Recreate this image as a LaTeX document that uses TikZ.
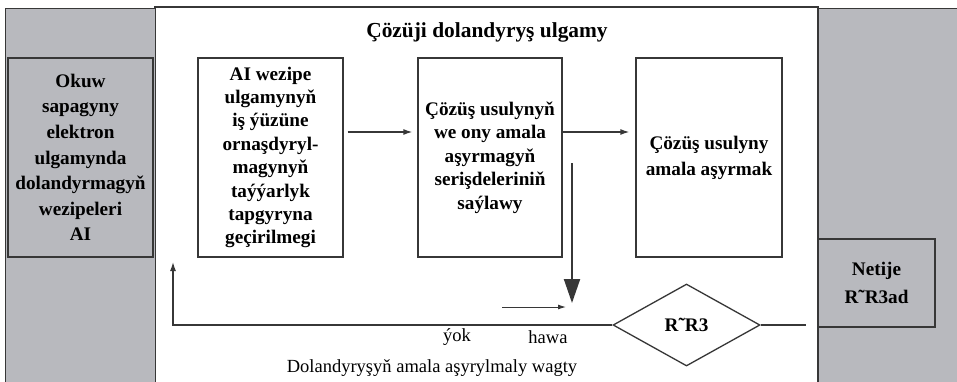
\documentclass[tikz,border=0pt]{standalone}
\usepackage{fontspec}
\setmainfont{Liberation Serif}
\usetikzlibrary{shapes.geometric,arrows.meta}
\definecolor{panelgray}{RGB}{184,185,190}
\definecolor{linegray}{RGB}{55,55,55}
\tikzset{
  panel/.style={fill=panelgray,draw=linegray,line width=1pt},
  graybox/.style={fill=panelgray,draw=linegray,line width=1.3pt,inner sep=0pt,align=center,
    font=\fontsize{19.2}{25.6}\selectfont\bfseries},
  whitebox/.style={fill=white,draw=linegray,line width=1.3pt,inner sep=0pt,align=center,
    minimum width=145pt,minimum height=199pt},
  conn/.style={draw=linegray,line width=1.3pt},
  arr/.style={conn,-{Latex[length=9pt,width=6pt]}},
  lbl/.style={inner sep=0pt,font=\fontsize{18.5}{22}\selectfont},
}
\begin{document}
\begin{tikzpicture}[x=1pt,y=-1pt]
\useasboundingbox (0,0) rectangle (957,381);
% panels
\fill[white] (0,0) rectangle (957,381);
\draw[fill=white,draw=linegray,line width=1.3pt] (155,7) rectangle (818,395);
\draw[panel] (5,8) rectangle (155,395);
\draw[panel] (818,8) rectangle (965,395);
% title
\node[inner sep=0pt,font=\fontsize{21.4}{24}\selectfont\bfseries] (title) at (487,32) {Çözüji dolandyryş ulgamy};
% left box
\node[graybox,minimum width=145pt,minimum height=199pt] (left) at (80.5,157.5)
  {Okuw\\sapagyny\\elektron\\ulgamynda\\dolandyrmagyň\\wezipeleri\\AI};
% boxes
\node[whitebox,font=\fontsize{19.2}{23.4}\selectfont\bfseries] (b1) at (270.5,157.5)
  {AI wezipe\\ulgamynyň\\iş ýüzüne\\ornaşdyryl-\\magynyň\\taýýarlyk\\tapgyryna\\geçirilmegi};
\node[whitebox,minimum width=144pt,font=\fontsize{19.2}{23.5}\selectfont\bfseries] (b2) at (490,157.5)
  {Çözüş usulynyň\\we ony amala\\aşyrmagyň\\serişdeleriniň\\saýlawy};
\node[whitebox,minimum width=146pt,font=\fontsize{19.2}{26}\selectfont\bfseries] (b3) at (709,157.5)
  {Çözüş usulyny\\amala aşyrmak};
% result box
\node[graybox,minimum width=117pt,minimum height=88pt,font=\fontsize{19.2}{28}\selectfont\bfseries] (res) at (876.5,283)
  {Netije\\R˜R3ad};
% diamond
\node[diamond,draw=linegray,line width=1.3pt,fill=white,inner sep=0pt,aspect=1.79,
  minimum width=147pt,minimum height=82pt,font=\fontsize{19.2}{22}\selectfont\bfseries] (dia) at (686.5,325) {R˜R3};
% coordinates
\coordinate (corner) at (173,325);
\coordinate (up) at (173,262);
\coordinate (rend) at (806,325);
\coordinate (vs) at (572,163);
\coordinate (ve) at (572,303);
\coordinate (ss) at (502,307);
\coordinate (se) at (566,307);
% connectors
\draw[arr] ([xshift=4pt,yshift=25.5pt]b1.east) -- ([xshift=-5pt,yshift=25.5pt]b2.west);
\draw[arr] ([yshift=25.5pt]b2.east) -- ([xshift=-6pt,yshift=25.5pt]b3.west);
\draw[conn,line width=2pt,-{Triangle[length=24pt,width=16pt]}] (vs) -- (ve);
\draw[conn,line width=1pt,-{Latex[length=8pt,width=5pt]}] (ss) -- (se);
\draw[arr] (dia.west) -- (corner) -- (up);
\draw[conn] (dia.east) -- (rend);
% labels
\node[lbl] (yok) at (457,337) {ýok};
\node[lbl] (hawa) at (548,337) {hawa};
\node[lbl] (wagt) at (432,368) {Dolandyryşyň amala aşyrylmaly wagty};
\end{tikzpicture}
\end{document}
